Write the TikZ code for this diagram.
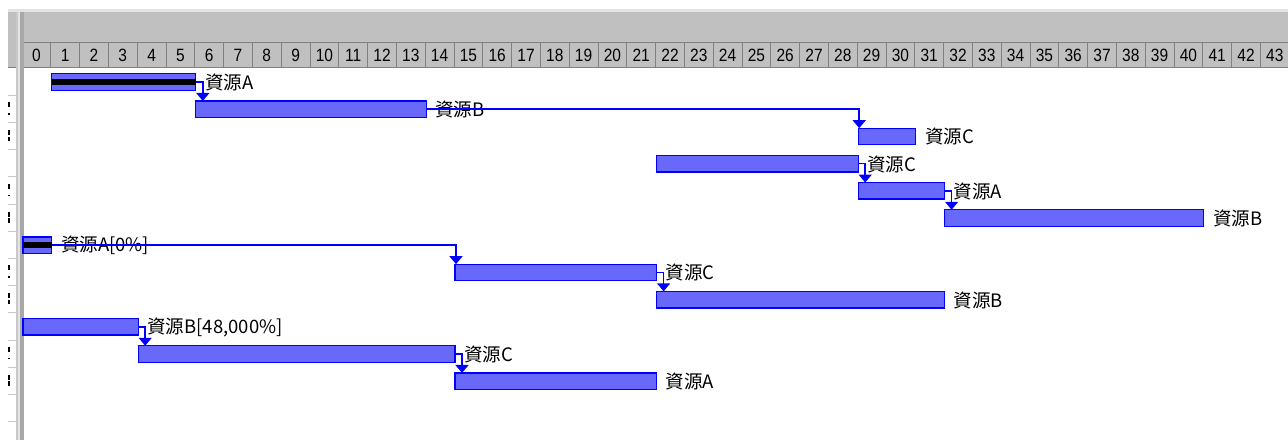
\documentclass[tikz,border=0pt]{standalone}
\usepackage{fontspec}
\setmainfont{Liberation Sans}
\newfontfamily\cjk{Noto Sans CJK JP}
\usetikzlibrary{arrows.meta,calc}
\definecolor{hdr}{RGB}{192,192,192}
\definecolor{hdrtop}{RGB}{226,226,226}
\definecolor{cellline}{RGB}{128,128,128}
\definecolor{sepA}{RGB}{200,200,200}
\definecolor{sepB}{RGB}{228,228,228}
\definecolor{sepC}{RGB}{168,168,168}
\definecolor{tick}{RGB}{200,200,200}
\definecolor{barline}{RGB}{0,0,255}
\definecolor{barfill}{RGB}{104,104,250}
\begin{document}
\begin{tikzpicture}[x=1pt,y=-1pt,
  bar/.style={rectangle,draw=barline,fill=barfill,line width=1.3pt,inner sep=0pt,outer sep=0pt,minimum height=16.5pt,anchor=west},
  lbl/.style={font=\cjk\fontsize{18.5}{18.5}\selectfont,inner sep=0pt,anchor=west},
  link/.style={color=barline,draw=barline,line width=1.5pt,-{Triangle[width=13pt,length=8pt]}},
  num/.style={font=\fontsize{15.5}{15.5}\selectfont,inner sep=0pt},
  cutmark/.style={fill=black}]
\useasboundingbox (0,0) rectangle (1288,440);
\fill[white] (0,0) rectangle (1288,440);
% header
\fill[hdrtop] (8,9) rectangle (1288,12);
\fill[hdr] (8,12) rectangle (1288,68);
\draw[cellline,line width=1pt] (22,42) -- (1288,42);
\draw[cellline,line width=1pt] (8,67.5) -- (1288,67.5);
\foreach \k in {0,...,44} {
  \draw[cellline,line width=1pt] ({22+28.8*\k},42) -- ({22+28.8*\k},67.5);
}
\foreach \k in {0,...,43} {
  \node[num] (n\k) at ({22+28.8*(\k+0.5)},55) {\scalebox{1}[1.15]{\k}};
}
% separator
\fill[sepA] (16,12) rectangle (17.5,440);
\fill[sepB] (17.5,12) rectangle (20,440);
\fill[sepC] (20,12) rectangle (23.5,440);
% left column ticks and cut-off marks
\foreach \r in {1,...,13} {
  \draw[tick,line width=1pt] (8,{68+27.2*\r}) -- (16,{68+27.2*\r});
}
\foreach \g in {0,1,2,3} {
  \fill[cutmark] (8,{102+81.6*\g}) rectangle (9.5,{107+81.6*\g});
  \fill[cutmark] (8,{113+81.6*\g}) rectangle (9.5,{114.5+81.6*\g});
  \fill[cutmark] (8,{130+81.6*\g}) rectangle (9.5,{135+81.6*\g});
  \fill[cutmark] (8,{136.5+81.6*\g}) rectangle (9.5,{141+81.6*\g});
}
% bars
\node[bar,minimum width={28.8*5}]  (b1)  at ({23+28.8*1},82) {};
\node[bar,minimum width={28.8*8}]  (b2)  at ({23+28.8*6},109.2) {};
\node[bar,minimum width={28.8*2}]  (b3)  at ({23+28.8*29},136.4) {};
\node[bar,minimum width={28.8*7}]  (b4)  at ({23+28.8*22},163.6) {};
\node[bar,minimum width={28.8*3}]  (b5)  at ({23+28.8*29},190.8) {};
\node[bar,minimum width={28.8*9}]  (b6)  at ({23+28.8*32},218) {};
\node[bar,minimum width={28.8*1}]  (b7)  at ({23+28.8*0},245.2) {};
\node[bar,minimum width={28.8*7}]  (b8)  at ({23+28.8*15},272.4) {};
\node[bar,minimum width={28.8*10}] (b9)  at ({23+28.8*22},299.6) {};
\node[bar,minimum width={28.8*4}]  (b10) at ({23+28.8*0},326.8) {};
\node[bar,minimum width={28.8*11}] (b11) at ({23+28.8*4},354) {};
\node[bar,minimum width={28.8*7}]  (b12) at ({23+28.8*15},381.2) {};
% progress bands
\fill[black] ($(b1.west)+(0,-3.5)$) rectangle ($(b1.east)+(0,3)$);
\fill[black] ($(b7.west)+(0,-3.5)$) rectangle ($(b7.east)+(0,3)$);
% labels
\node[lbl] (l1)  at ($(b1.east)+(9,0.5)$)  {資源A};
\node[lbl] (l2)  at ($(b2.east)+(9,0.5)$)  {資源B};
\node[lbl] (l3)  at ($(b3.east)+(9,0.5)$)  {資源C};
\node[lbl] (l4)  at ($(b4.east)+(9,0.5)$)  {資源C};
\node[lbl] (l5)  at ($(b5.east)+(9,0.5)$)  {資源A};
\node[lbl] (l6)  at ($(b6.east)+(9,0.5)$)  {資源B};
\node[lbl] (l7)  at ($(b7.east)+(9,0.5)$)  {資源A[0\%]};
\node[lbl] (l8)  at ($(b8.east)+(9,0.5)$)  {資源C};
\node[lbl] (l9)  at ($(b9.east)+(9,0.5)$)  {資源B};
\node[lbl] (l10) at ($(b10.east)+(9,0.5)$) {資源B[48,000\%]};
\node[lbl] (l11) at ($(b11.east)+(9,0.5)$) {資源C};
\node[lbl] (l12) at ($(b12.east)+(9,0.5)$) {資源A};
% links
\draw[link] (b1.east) -| ([xshift=7pt]b2.north west);
\draw[link] (b2.east) -| ([xshift=1pt]b3.north west);
\draw[link] (b4.east) -| ([xshift=7pt]b5.north west);
\draw[link] (b5.east) -| ([xshift=7pt]b6.north west);
\draw[link] (b7.east) -| ([xshift=1pt]b8.north west);
\draw[link] (b8.east) -| ([xshift=7pt]b9.north west);
\draw[link] (b10.east) -| ([xshift=7pt]b11.north west);
\draw[link] (b11.east) -| ([xshift=7pt]b12.north west);
\end{tikzpicture}
\end{document}
